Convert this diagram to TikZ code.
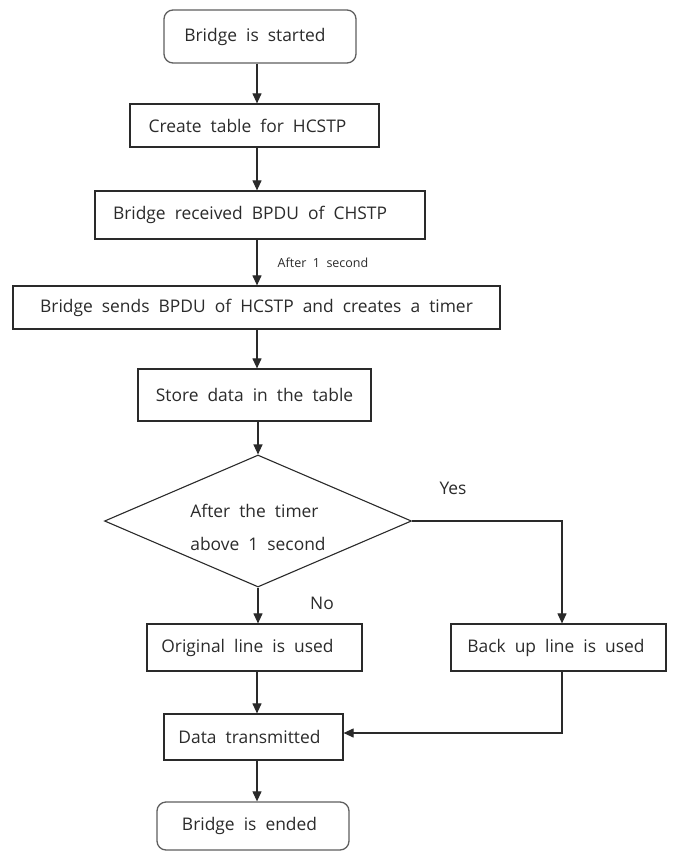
\documentclass[tikz,border=0pt]{standalone}
\usepackage{fontspec}
\setmainfont{Open Sans}[WordSpace=2]
\usetikzlibrary{arrows.meta,shapes.geometric}
\definecolor{ink}{HTML}{2A2A2A}
\definecolor{txt}{HTML}{2B2B2B}
\tikzset{
  every node/.style={font=\fontsize{17.4}{20}\selectfont, text=txt},
  stepbox/.style={draw=ink, line width=1.2pt, inner sep=0pt, rectangle},
  termbox/.style={draw=ink!75, line width=1.3pt, inner sep=0pt, rectangle, rounded corners=9pt},
  decision/.style={draw=ink, line width=1.1pt, shape=diamond, inner sep=0pt, aspect=2.33},
  conn/.style={draw=ink, line width=1.1pt},
  arr/.style={conn, -{Triangle[length=10pt,width=9pt]}},
  lbl/.style={inner sep=0pt},
}
\begin{document}
\begin{tikzpicture}[x=1pt,y=-1pt]
\useasboundingbox[fill=white] (0,0) rectangle (672,851);
\coordinate (ax) at (257,0);
\node[termbox, minimum width=192pt, minimum height=53pt] (start) at (260,36.5) {Bridge is started\kern10pt};
\node[stepbox, minimum width=249pt, minimum height=43pt] (b2) at (254.5,125.5) {Create table for HCSTP\kern14pt};
\node[stepbox, minimum width=330pt, minimum height=48pt] (b3) at (260,215) {Bridge received BPDU of CHSTP\kern20pt};
\node[stepbox, minimum width=487pt, minimum height=43pt] (b4) at (256.5,307.5) {Bridge sends BPDU of HCSTP and creates a timer};
\node[stepbox, minimum width=233pt, minimum height=52pt] (b5) at (254.5,395) {Store data in the table};
\node[decision, minimum width=307pt, minimum height=132pt] (dec) at (258,521) {};
\node[lbl, align=left] (dectext) at (258,527) {After the timer\\[13pt]above 1 second};
\node[stepbox, minimum width=215pt, minimum height=47pt] (orig) at (254.5,647.5) {Original line is used\kern14pt};
\node[stepbox, minimum width=215pt, minimum height=47pt] (back) at (558.5,647.5) {Back up line is used\kern5pt};
\node[stepbox, minimum width=179pt, minimum height=46pt] (data) at (253.5,737) {Data transmitted\kern8pt};
\node[termbox, minimum width=192pt, minimum height=48pt] (end) at (253,826) {Bridge is ended\kern7pt};

\node[lbl, font=\fontsize{12.5}{14}\selectfont] (after) at (323,263) {After 1 second};
\node[lbl] (yes) at (453,488) {Yes};
\node[lbl] (no) at (322,603) {No};

\coordinate (yc) at (562,521);
\coordinate (bk) at (562,733);

\draw[arr] (start.south -| ax) -- (b2.north -| ax);
\draw[arr] (b2.south -| ax) -- (b3.north -| ax);
\draw[arr] (b3.south -| ax) -- (b4.north -| ax);
\draw[arr] (b4.south -| ax) -- (b5.north -| ax);
\draw[arr] (b5.south -| dec.north) -- (dec.north);
\draw[arr] (dec.south) -- (orig.north -| dec.south);
\draw[arr] (dec.east) -- (yc) -- (back.north -| yc);
\draw[arr] (orig.south -| ax) -- (data.north -| ax);
\draw[arr] (back.south -| bk) -- (bk) -- (bk -| data.east);
\draw[arr] (data.south -| ax) -- (end.north -| ax);
\end{tikzpicture}
\end{document}
